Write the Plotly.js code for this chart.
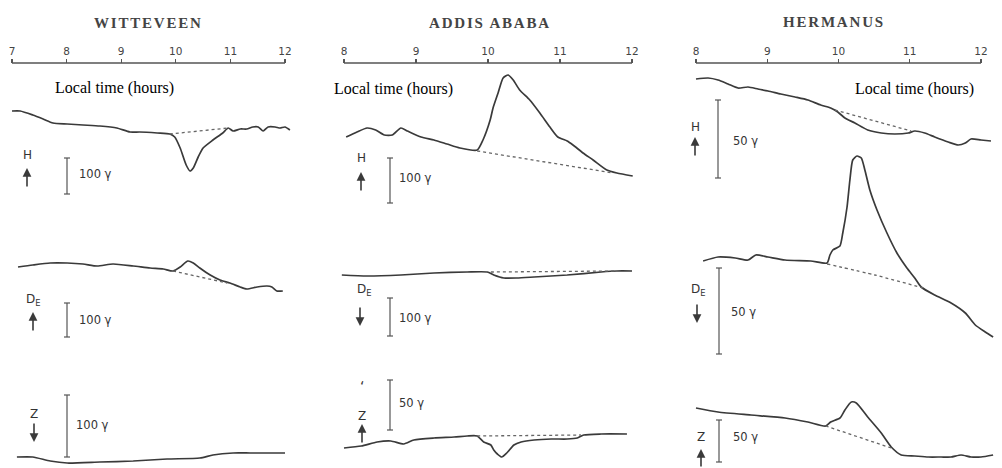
<!DOCTYPE html>
<html>
<head>
<meta charset="utf-8">
<script src="https://cdn.plot.ly/plotly-3.0.1.min.js"></script>
<style>html,body{margin:0;padding:0;background:#fff;} #chart{width:1002px;height:468px;}</style>
</head>
<body>
<div id="chart"></div>
<script>
// ---------- DATA (time in local hours; trace level in chart units, downward) ----------
const stations = ["WITTEVEEN", "ADDIS ABABA", "HERMANUS"];
const hourTicks1 = [7, 8, 9, 10, 11, 12];
const hourTicks2 = [8, 9, 10, 11, 12];
const hourTicks3 = [8, 9, 10, 11, 12];

// Witteveen
const wH_t = [7.00,7.15,7.38,7.57,7.75,8.01,8.30,8.61,8.92,9.16,9.34,9.66,9.89,9.98,10.08,10.19,10.26,10.32,10.41,10.50,10.68,10.86,10.96,11.05,11.18,11.30,11.41,11.51,11.60,11.69,11.82,11.91,12.00,12.09];
const wH_v = [111,111,115,119,123,124,125,126,128,132,132,133,134,137,148,165,171,168,157,148,140,133,128,131,129,129,127,127,131,127,127,128,127,130];
const wH_base_t = [9.89, 10.96];
const wH_base_v = [134, 128];
const wD_t = [7.11,7.38,7.70,8.01,8.30,8.56,8.85,9.22,9.53,9.77,9.95,10.08,10.22,10.32,10.44,10.63,10.81,10.99,11.18,11.30,11.49,11.67,11.76,11.85,11.96];
const wD_v = [267,265,263,263,264,266,264,266,268,269,271,267,261,263,268,275,280,283,287,289,287,286,287,291,291];
const wD_base_t = [9.95, 10.94];
const wD_base_v = [271, 283];
const wZ_t = [7.09,7.38,7.70,8.01,8.61,9.22,9.84,10.44,10.68,11.05,11.36,11.67,12.00];
const wZ_v = [457,457,461,463,462,461,459,458,455,453,453,453,453];

// Addis Ababa
const aH_t = [8.03,8.18,8.32,8.44,8.56,8.67,8.79,8.88,9.07,9.25,9.43,9.61,9.85,9.93,10.03,10.07,10.14,10.21,10.28,10.35,10.44,10.58,10.72,10.86,10.97,11.10,11.18,11.32,11.46,11.65,11.79,12.01];
const aH_v = [137,132,128,130,135,135,128,131,137,140,144,148,150,140,120,108,93,78,75,80,90,100,113,127,137,141,145,153,160,170,173,176];
const aH_base_t = [9.85, 11.74];
const aH_base_v = [151, 173];
const aD_t = [7.97,8.32,8.79,9.25,9.71,9.99,10.08,10.22,10.40,10.64,11.10,11.57,11.79,12.00];
const aD_v = [275,276,275,273,272,272,275,278,278,277,275,272,271,271];
const aD_base_t = [10.04, 11.79];
const aD_base_v = [272, 271];
const aZ_t = [8.00,8.24,8.46,8.65,8.83,8.97,9.25,9.53,9.71,9.85,9.94,10.04,10.08,10.13,10.19,10.26,10.36,10.46,10.64,10.88,11.10,11.24,11.33,11.57,11.93];
const aZ_v = [448,446,442,441,444,440,438,437,436,436,442,445,450,454,457,453,445,442,440,439,439,438,435,434,434];
const aZ_base_t = [9.85, 11.29];
const aZ_base_v = [436, 435];

// Hermanus
const hH_t = [8.00,8.17,8.31,8.45,8.59,8.73,8.87,9.01,9.19,9.39,9.57,9.75,9.89,9.99,10.09,10.23,10.41,10.60,10.79,10.98,11.07,11.21,11.35,11.54,11.68,11.78,11.86,12.00,12.14];
const hH_v = [79,78,80,84,88,87,89,91,94,97,100,105,108,112,118,123,130,133,134,133,131,133,137,142,145,143,139,140,141];
const hH_base_t = [9.95, 11.02];
const hH_base_v = [110, 131];
const hD_t = [8.10,8.31,8.55,8.73,8.84,9.01,9.25,9.61,9.84,9.88,9.92,10.02,10.06,10.12,10.16,10.20,10.26,10.32,10.37,10.44,10.54,10.68,10.82,10.96,11.07,11.16,11.35,11.58,11.78,11.92,12.06,12.17];
const hD_v = [261,257,258,260,255,257,260,261,263,255,250,246,233,207,180,160,156,158,170,190,210,233,253,268,278,287,295,303,313,325,332,337];
const hD_base_t = [9.84, 10.51, 11.19];
const hD_base_v = [264, 275, 288];
const hZ_t = [8.00,8.31,8.77,9.25,9.57,9.82,9.89,10.02,10.09,10.18,10.25,10.41,10.60,10.74,10.88,11.07,11.26,11.44,11.58,11.72,11.86,12.00,12.17];
const hZ_v = [408,412,415,418,422,426,422,418,410,402,403,417,433,447,455,456,457,457,457,455,457,457,455];
const hZ_base_t = [9.82, 10.74];
const hZ_base_v = [426, 448];

const scaleLabels = {w: ["100 γ","100 γ","100 γ"], a: ["100 γ","100 γ","50 γ"], h: ["50 γ","50 γ","50 γ"]};

// ---------- LAYOUT HELPERS ----------
const W = 1002, H = 468;
const px = x => x / W;
const py = y => 1 - y / H;
const INK = "#3a3a3a";

function curve(t, v, xa) {
  return {x: t, y: v, xaxis: xa, yaxis: "y", mode: "lines", hoverinfo: "skip",
          line: {color: INK, width: 1.7, shape: "spline", smoothing: 0.6}};
}
function base(t, v, xa) {
  return {x: t, y: v, xaxis: xa, yaxis: "y", mode: "lines", hoverinfo: "skip",
          line: {color: "#666", width: 1.3, dash: "3px,3px", shape: "spline", smoothing: 0.5}};
}

const data = [
  curve(wH_t, wH_v, "x"), base(wH_base_t, wH_base_v, "x"),
  curve(wD_t, wD_v, "x"), base(wD_base_t, wD_base_v, "x"),
  curve(wZ_t, wZ_v, "x"),
  curve(aH_t, aH_v, "x2"), base(aH_base_t, aH_base_v, "x2"),
  curve(aD_t, aD_v, "x2"), base(aD_base_t, aD_base_v, "x2"),
  curve(aZ_t, aZ_v, "x2"), base(aZ_base_t, aZ_base_v, "x2"),
  curve(hH_t, hH_v, "x3"), base(hH_base_t, hH_base_v, "x3"),
  curve(hD_t, hD_v, "x3"), base(hD_base_t, hD_base_v, "x3"),
  curve(hZ_t, hZ_v, "x3"), base(hZ_base_t, hZ_base_v, "x3")
];

function timeAxis(domain, range, ticks) {
  return {domain: domain, range: range, anchor: "free", position: py(63), side: "top",
          showgrid: false, zeroline: false, showline: false,
          tickmode: "array", tickvals: ticks, ticktext: ticks.map(String),
          ticks: "outside", ticklen: 4, tickwidth: 1.3, tickcolor: "#555",
          tickfont: {family: "DejaVu Sans", size: 10.5, color: "#444"}, fixedrange: true};
}

const annotations = [];
function txt(text, x, y, font, extra) {
  annotations.push(Object.assign({text: text, x: px(x), y: py(y), xref: "paper", yref: "paper",
    showarrow: false, font: font, xanchor: "center", yanchor: "middle"}, extra || {}));
}
function arrow(x, yHead, up) {
  annotations.push({text: "", x: px(x), y: py(yHead), xref: "paper", yref: "paper",
    showarrow: true, ax: 0, ay: up ? 20 : -20, arrowhead: 2, arrowsize: 1.1, arrowwidth: 1.6,
    arrowcolor: INK, standoff: 0});
}
const titleFont = {family: "Liberation Serif", size: 15, color: "#444", weight: "bold"};
const spaced = s => '<span style="letter-spacing:1.8px">' + s + '</span>';
txt(spaced(stations[0]), 148, 23, titleFont);
txt(spaced(stations[1]), 490, 23, titleFont);
txt(spaced(stations[2]), 834, 22, titleFont);

const ltFont = {family: "Liberation Serif", size: 16, color: "#000"};
txt("Local time (hours)", 114, 88, ltFont);
txt("Local time (hours)", 393, 89, ltFont);
txt("Local time (hours)", 914, 89, ltFont, {bgcolor: "#fff"});

const sFont = {family: "DejaVu Sans", size: 11.5, color: "#333"};
const cFont = {family: "DejaVu Sans", size: 12, color: "#333"};
// scale labels
[[77,174],[77,320],[74,425]].forEach((p,i)=>txt(scaleLabels.w[i], p[0], p[1], sFont, {xanchor:"left"}));
[[397,178],[397,318],[397,403]].forEach((p,i)=>txt(scaleLabels.a[i], p[0], p[1], sFont, {xanchor:"left"}));
[[731,141],[729,312],[731,437]].forEach((p,i)=>txt(scaleLabels.h[i], p[0], p[1], sFont, {xanchor:"left"}));
// component letters
txt("H", 27, 155, cFont); arrow(27, 168, true);
txt("D<sub>E</sub>", 33, 300, cFont); arrow(33, 312, true);
txt("Z", 34, 414, cFont); arrow(34, 442, false);
txt("H", 361, 158, cFont); arrow(361, 172, true);
txt("D<sub>E</sub>", 364, 290, cFont); arrow(360, 326, false);
txt("‘", 362, 386, {family: "DejaVu Sans", size: 14, color: "#333"});
txt("Z", 362, 416, cFont); arrow(362, 424, true);
txt("H", 695, 127, cFont); arrow(695, 137, true);
txt("D<sub>E</sub>", 698, 290, cFont); arrow(697, 323, false);
txt("Z", 701, 437, cFont); arrow(701, 449, true);

// shapes: time axis rules and scale bars
const shapes = [];
function rule(xa, t0, t1) {
  shapes.push({type: "line", xref: xa, yref: "paper", x0: t0, x1: t1, y0: py(63), y1: py(63),
               line: {color: "#555", width: 1.5}});
}
rule("x", 7, 12); rule("x2", 8, 12); rule("x3", 8, 12);
function bar(x, y0, y1) {
  const L = {color: "#555", width: 1.2};
  shapes.push({type: "line", xref: "paper", yref: "paper", x0: px(x), x1: px(x), y0: py(y0), y1: py(y1), line: L});
  shapes.push({type: "line", xref: "paper", yref: "paper", x0: px(x-3), x1: px(x+3), y0: py(y0), y1: py(y0), line: L});
  shapes.push({type: "line", xref: "paper", yref: "paper", x0: px(x-3), x1: px(x+3), y0: py(y1), y1: py(y1), line: L});
}
bar(67,158,194); bar(67,303,337); bar(67,395,457);
bar(390,158,203); bar(390,298,336); bar(390,380,430);
bar(718,100,178); bar(719,268,354); bar(719,420,462);

const layout = {
  width: W, height: H, margin: {l: 0, r: 0, t: 0, b: 0},
  paper_bgcolor: "#fff", plot_bgcolor: "rgba(0,0,0,0)", showlegend: false,
  xaxis:  timeAxis([0, 325/W], [7 + (0-12)/54.6, 7 + (325-12)/54.6], hourTicks1),
  xaxis2: timeAxis([325/W, 660/W], [8 + (325-344)/72, 8 + (660-344)/72], hourTicks2),
  xaxis3: timeAxis([660/W, 1], [8 + (660-696)/71.25, 8 + (1002-696)/71.25], hourTicks3),
  yaxis: {domain: [0, 1], range: [H, 0], visible: false, fixedrange: true, anchor: "x"},
  annotations: annotations, shapes: shapes
};

Plotly.newPlot("chart", data, layout, {displayModeBar: false, staticPlot: true});
</script>
</body>
</html>
